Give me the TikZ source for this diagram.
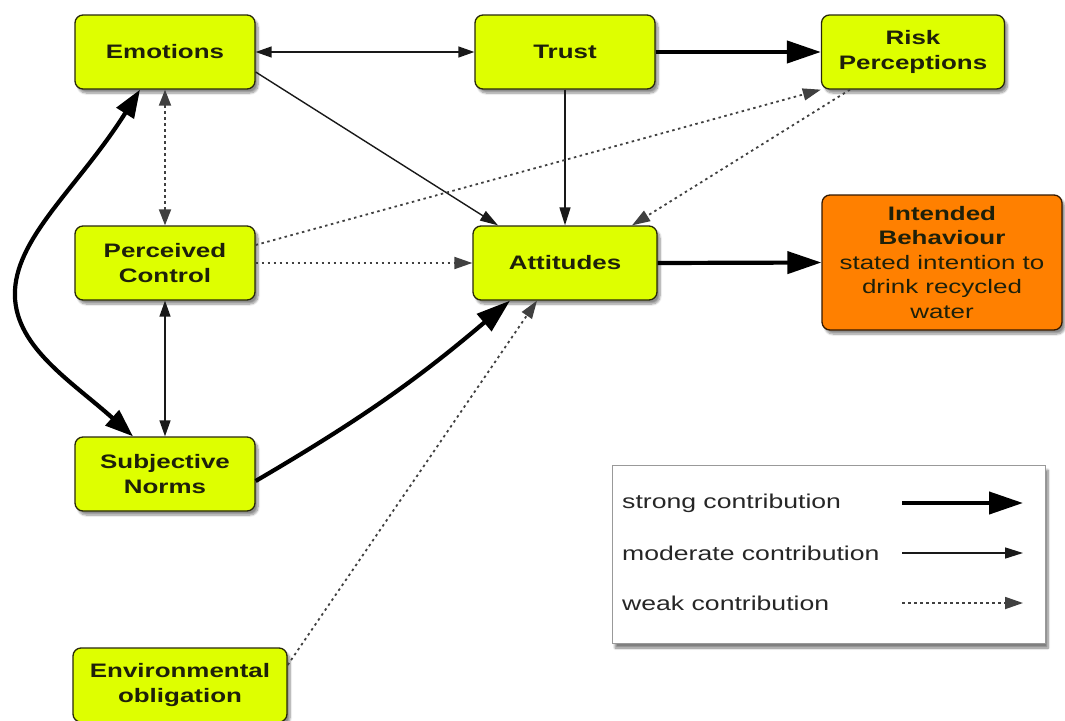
\documentclass[tikz,border=0pt]{standalone}
\usepackage{fontspec}
\setmainfont{Liberation Sans}[FakeStretch=1.33]
\usetikzlibrary{arrows.meta,shadows,shadows.blur,calc}
\definecolor{boxyellow}{RGB}{222,255,0}
\definecolor{boxorange}{RGB}{255,128,0}
\definecolor{edgedark}{RGB}{40,40,10}
\definecolor{textdark}{RGB}{30,32,10}
\begin{document}
\begin{tikzpicture}[x=1pt,y=-1pt,
  box/.style={draw=edgedark, line width=1.3pt, rounded corners=8pt, fill=boxyellow,
    minimum width=180pt, minimum height=74pt, align=center, inner sep=2pt,
    font=\fontsize{19.5}{24.5}\selectfont\bfseries, text=textdark,
    blur shadow={shadow xshift=3pt, shadow yshift=-4pt, shadow blur steps=8, shadow opacity=45}},
  strong/.style={line width=4.2pt, -{Triangle[length=34pt,width=22pt]}},
  strongboth/.style={line width=4.2pt, {Triangle[length=28pt,width=20pt]}-{Triangle[length=28pt,width=20pt]}},
  moderate/.style={line width=1.4pt, draw=black!90, -{Triangle[length=18pt,width=11pt]}},
  moderateboth/.style={line width=1.4pt, draw=black!90, {Triangle[length=16pt,width=11pt]}-{Triangle[length=16pt,width=11pt]}},
  weak/.style={line width=1.8pt, draw=black!75, dash pattern=on 2.5pt off 3.5pt, -{Triangle[length=18pt,width=12pt]}},
  weakboth/.style={line width=1.8pt, draw=black!75, dash pattern=on 2.5pt off 3.5pt, {Triangle[length=16pt,width=12pt]}-{Triangle[length=16pt,width=12pt]}},
  legtext/.style={anchor=west, inner sep=0pt, font=\fontsize{20}{24}\selectfont, text=black!85}
]
\useasboundingbox (0,0) rectangle (1065,720);

% legend box
\node[draw=black!40, line width=0.8pt, fill=white, minimum width=433pt, minimum height=178pt,
  blur shadow={shadow xshift=3pt, shadow yshift=-5pt, shadow blur steps=8, shadow opacity=50}] (legend) at (828.5,554) {};

% nodes
\node[box] (emo) at (165,52) {Emotions};
\node[box] (trust) at (565,52) {Trust};
\node[box, minimum width=183pt] (risk) at (913,52) {Risk\\Perceptions};
\node[box] (pc) at (165,263) {Perceived\\Control};
\node[box, minimum width=184pt] (att) at (565,263) {Attitudes};
\node[box, fill=boxorange, draw=black!80!orange, minimum width=240pt, minimum height=135pt] (ib) at (942,262.5)
  {Intended\\Behaviour\\{\mdseries stated intention to}\\{\mdseries drink recycled}\\{\mdseries water}};
\node[box] (sn) at (165,474) {Subjective\\Norms};
\node[box, minimum width=214pt] (env) at (180,685) {Environmental\\obligation};

% connectors
\draw[moderateboth] (emo.east) -- (trust.west);
\draw[strong] (trust.east) -- (risk.west);
\draw[moderate] ([yshift=-20pt]emo.east) -- ([xshift=-67pt]att.north);
\draw[moderate] (trust.south) -- (att.north);
\draw[weak] ([xshift=-63pt]risk.south) -- ([xshift=67pt]att.north);
\draw[weak] ([yshift=18pt]pc.east) -- (risk.south west);
\draw[weak] (pc.east) -- (att.west);
\draw[strong] (att.east) -- (ib.west);
\draw[weakboth] (emo.south) -- (pc.north);
\draw[moderateboth] (pc.south) -- (sn.north);
\coordinate (bendL) at (15,290);
\draw[strongboth] ([xshift=-25pt]emo.south) .. controls (80,185) and (18,235) .. (bendL)
  .. controls (12,345) and (70,380) .. ([xshift=-32pt]sn.north);
\draw[strong] ([yshift=-7pt]sn.east) to[bend right=5] ([xshift=-55pt]att.south);
\draw[weak] ([yshift=20pt]env.east) -- ([xshift=-28pt]att.south);

% legend contents
\node[legtext] (l1) at (622,503) {strong contribution};
\node[legtext] (l2) at (622,553) {moderate contribution};
\node[legtext] (l3) at (622,603) {weak contribution};
\coordinate (s1) at (902,503); \coordinate (e1) at (1023,503);
\coordinate (s2) at (902,553); \coordinate (e2) at (1023,553);
\coordinate (s3) at (902,603); \coordinate (e3) at (1023,603);
\draw[strong] (s1) -- (e1);
\draw[moderate] (s2) -- (e2);
\draw[weak] (s3) -- (e3);
\end{tikzpicture}
\end{document}
